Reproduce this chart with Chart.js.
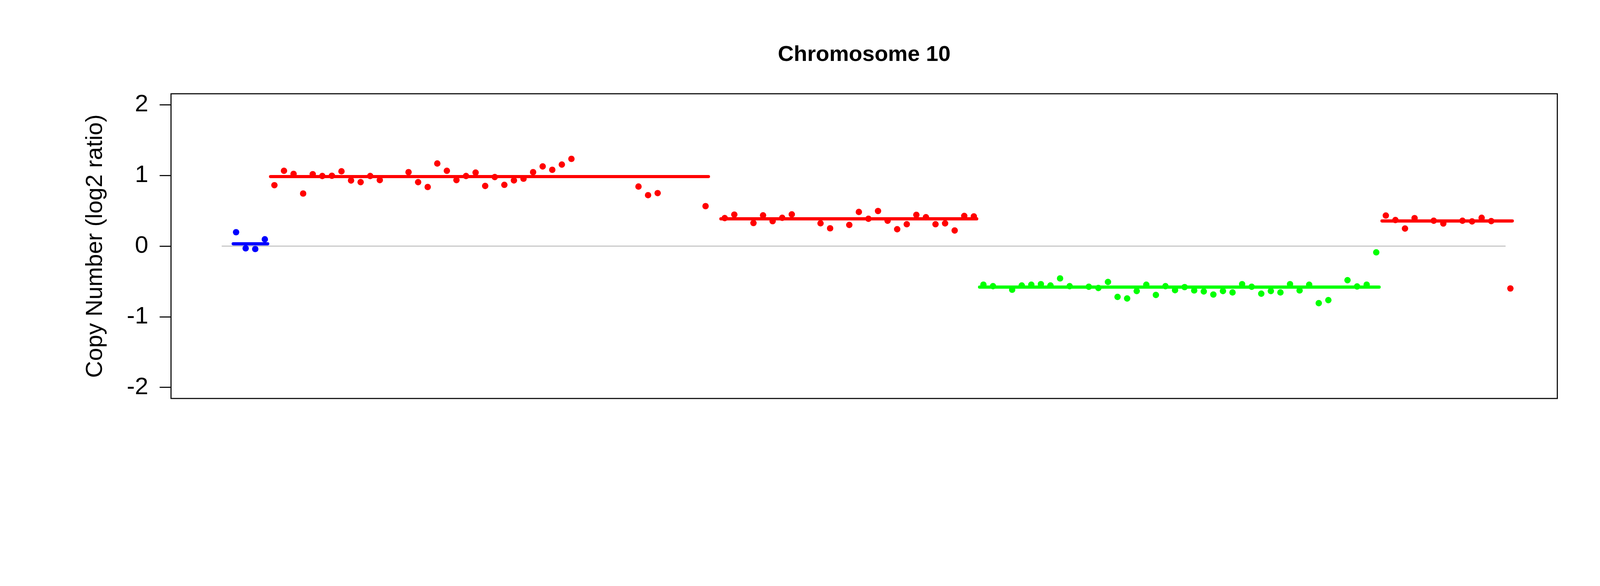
<!DOCTYPE html>
<html>
<head>
<meta charset="utf-8">
<script src="https://cdn.jsdelivr.net/npm/chart.js@4.4.0/dist/chart.umd.min.js"></script>
<style>
  html, body { margin: 0; padding: 0; background: #fff; overflow: hidden; }
  canvas { display: block; }
</style>
</head>
<body>
<canvas id="chart"></canvas>
<script>
// probe index along the chromosome and log2 ratio, by call
const lossX = [0, 1, 2, 3];
const lossY = [0.197, -0.031, -0.041, 0.097];

const gainX = [4, 5, 6, 7, 8, 9, 10, 11, 12, 13, 14, 15, 18, 19, 20, 21, 22, 23, 24, 25, 26, 27, 28, 29, 30, 31, 32, 33, 34, 35,
  42, 43, 44, 49, 51, 52, 54, 55, 56, 57, 58, 61, 62, 64, 65, 66, 67, 68, 69, 70, 71, 72, 73, 74, 75, 76, 77,
  120, 121, 122, 123, 125, 126, 128, 129, 130, 131, 133];
const gainY = [0.862, 1.066, 1.022, 0.744, 1.018, 0.992, 0.996, 1.059, 0.929, 0.905, 0.992, 0.934, 1.047, 0.905, 0.837, 1.169, 1.066, 0.934, 0.992, 1.041, 0.851, 0.977, 0.867, 0.930, 0.954, 1.047, 1.128, 1.080, 1.154, 1.235,
  0.843, 0.721, 0.750, 0.566, 0.397, 0.446, 0.327, 0.435, 0.353, 0.401, 0.449, 0.323, 0.252, 0.300, 0.484, 0.387, 0.497, 0.359, 0.239, 0.310, 0.442, 0.409, 0.310, 0.322, 0.221, 0.427, 0.420,
  0.433, 0.369, 0.249, 0.396, 0.359, 0.320, 0.359, 0.350, 0.401, 0.354, -0.599];

const delX = [78, 79, 81, 82, 83, 84, 85, 86, 87, 89, 90, 91, 92, 93, 94, 95, 96, 97, 98, 99, 100, 101,
  102, 103, 104, 105, 106, 107, 108, 109, 110, 111, 112, 113, 114, 116, 117, 118, 119];
const delY = [-0.545, -0.567, -0.617, -0.557, -0.546, -0.538, -0.557, -0.457, -0.567, -0.575, -0.593, -0.507, -0.719, -0.741, -0.636, -0.546, -0.691, -0.567, -0.623, -0.580, -0.627, -0.641,
  -0.685, -0.636, -0.655, -0.538, -0.575, -0.673, -0.636, -0.655, -0.538, -0.627, -0.546, -0.807, -0.764, -0.482, -0.571, -0.545, -0.088];

// segment means
const segStart = [-0.3, 3.6, 50.6, 77.6, 119.6];
const segEnd = [3.3, 49.3, 77.3, 119.3, 133.2];
const segMean = [0.033, 0.984, 0.386, -0.580, 0.356];
const segColor = ['#0000FF', '#FF0000', '#FF0000', '#00FF00', '#FF0000'];

const yTicks = [-2, -1, 0, 1, 2];

// fit whatever window we get, laid out on a 4500x1500 design
const W = window.innerWidth, H = window.innerHeight;
const sx = W / 4500, sy = H / 1500, s = Math.min(sx, sy);
const canvas = document.getElementById('chart');
canvas.width = W; canvas.height = H;
canvas.style.width = W + 'px'; canvas.style.height = H + 'px';
const FONT = '"Liberation Sans", Arial, sans-serif';

const pts = (xs, ys) => xs.map((x, i) => ({ x, y: ys[i] }));

const datasets = [{
  type: 'line',
  data: [{ x: -1.5, y: 0 }, { x: 132.5, y: 0 }],
  borderColor: '#BEBEBE', borderWidth: 3 * s, pointRadius: 0, order: 10
}];
segStart.forEach((st, i) => {
  datasets.push({
    type: 'line',
    data: [{ x: st, y: segMean[i] }, { x: segEnd[i], y: segMean[i] }],
    borderColor: segColor[i], borderWidth: 9 * s, borderCapStyle: 'round', pointRadius: 0, order: 5
  });
});
[[lossX, lossY, '#0000FF'], [gainX, gainY, '#FF0000'], [delX, delY, '#00FF00']].forEach(([xs, ys, c]) => {
  datasets.push({
    type: 'scatter',
    data: pts(xs, ys),
    backgroundColor: c, borderWidth: 0, pointRadius: 9 * s, order: 1
  });
});

const frame = {
  id: 'frame',
  afterDraw(chart) {
    const { ctx, chartArea: a } = chart;
    ctx.save();
    ctx.strokeStyle = '#000';
    ctx.lineWidth = 3 * s;
    ctx.strokeRect(a.left, a.top, a.right - a.left, a.bottom - a.top);
    ctx.fillStyle = '#000';
    ctx.textAlign = 'center';
    ctx.textBaseline = 'middle';
    ctx.font = `bold ${62 * s}px ${FONT}`;
    ctx.fillText('Chromosome 10', (a.left + a.right) / 2, 140 * sy);
    ctx.translate(268 * sx, (a.top + a.bottom) / 2);
    ctx.rotate(-Math.PI / 2);
    ctx.font = `${66 * s}px ${FONT}`;
    ctx.fillText('Copy Number (log2 ratio)', 0, 0);
    ctx.restore();
  }
};

new Chart(canvas, {
  data: { datasets },
  options: {
    responsive: false,
    animation: false,
    devicePixelRatio: 1,
    layout: { padding: { left: 0, right: 120 * sx, top: 240 * sy, bottom: 480 * sy } },
    plugins: { legend: { display: false }, tooltip: { enabled: false }, title: { display: false } },
    scales: {
      x: { type: 'linear', min: -6.79, max: 137.9, display: false },
      y: {
        min: -2.156, max: 2.156,
        afterBuildTicks: sc => { sc.ticks = yTicks.map(v => ({ value: v })); },
        afterFit: sc => { sc.width = 481 * sx; },
        grid: { drawOnChartArea: false, drawTicks: true, tickLength: 32 * s, color: '#000', lineWidth: 3 * s },
        border: { display: false },
        ticks: { color: '#000', padding: 32 * s, font: { size: 68 * s, family: FONT } }
      }
    }
  },
  plugins: [frame]
});
</script>
</body>
</html>
